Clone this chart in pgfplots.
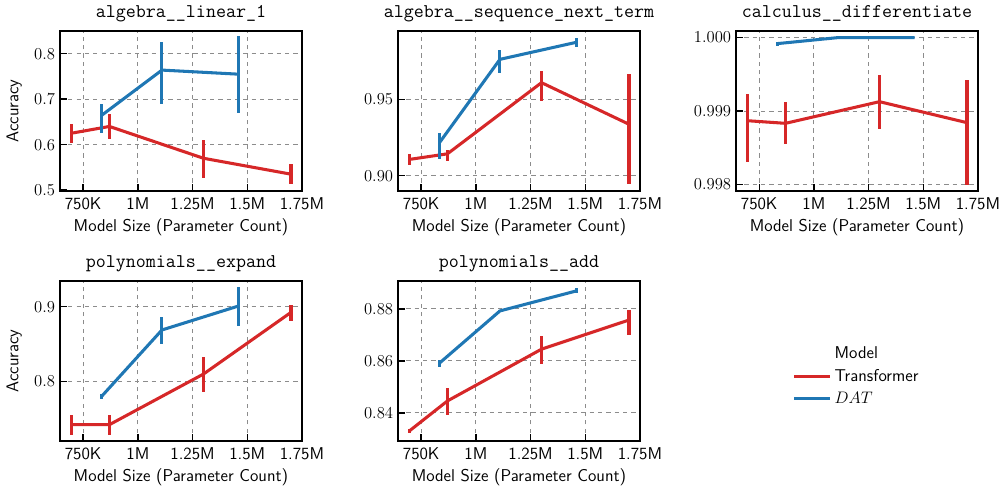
\documentclass[border=0pt]{standalone}
\usepackage{pgfplots}
\pgfplotsset{compat=1.18}
\usepackage{pgfplotstable}
\definecolor{tred}{HTML}{D62728}
\definecolor{tblue}{HTML}{1F77B4}

% ---------- data: x (millions), y, error plus, error minus ----------
\pgfplotstableread{
x y ep em
0.695 0.625 0.021 0.022
0.870 0.640 0.027 0.027
1.300 0.570 0.041 0.044
1.700 0.535 0.023 0.022
}\linTr
\pgfplotstableread{
x y ep em
0.833 0.664 0.025 0.039
1.110 0.764 0.061 0.074
1.460 0.755 0.085 0.085
}\linDat
\pgfplotstableread{
x y ep em
0.695 0.9107 0.0033 0.0037
0.870 0.9144 0.0028 0.0044
1.300 0.9611 0.0079 0.0121
1.700 0.9338 0.0328 0.0395
}\seqTr
\pgfplotstableread{
x y ep em
0.833 0.9216 0.0066 0.0106
1.110 0.9764 0.0064 0.0089
1.460 0.9876 0.0030 0.0033
}\seqDat
% calculus: y stored as (accuracy - 0.998) * 1000
\pgfplotstableread{
x y ep em
0.695 0.868 0.359 0.568
0.870 0.832 0.286 0.282
1.300 1.127 0.368 0.368
1.700 0.841 0.582 0.850
}\calTr
\pgfplotstableread{
x y ep em
0.833 1.918 0.027 0.027
1.110 2.000 0.000 0.000
1.460 2.000 0.000 0.000
}\calDat
\pgfplotstableread{
x y ep em
0.695 0.7420 0.0134 0.0139
0.870 0.7420 0.0134 0.0139
1.300 0.8098 0.0232 0.0241
1.700 0.8924 0.0098 0.0111
}\expTr
\pgfplotstableread{
x y ep em
0.833 0.7795 0.0035 0.0035
1.110 0.8688 0.0178 0.0188
1.460 0.9009 0.0259 0.0269
}\expDat
\pgfplotstableread{
x y ep em
0.695 0.8330 0.0008 0.0009
0.870 0.8446 0.0051 0.0055
1.300 0.8645 0.0050 0.0056
1.700 0.8757 0.0040 0.0056
}\addTr
\pgfplotstableread{
x y ep em
0.833 0.8591 0.0013 0.0015
1.110 0.8792 0.0003 0.0003
1.460 0.8869 0.0010 0.0010
}\addDat

\pgfplotsset{
  myax/.style={
    width=174.2pt, height=115.2pt, scale only axis,
    anchor=north west,
    xmin=0.644, xmax=1.75,
    xtick={0.75,1,1.25,1.5,1.75},
    xticklabels={750K,1M,1.25M,1.5M,1.75M},
    xticklabel style={font=\sffamily\fontsize{12.3}{14}\selectfont, anchor=base, yshift=-13pt},
    yticklabel style={font=\fontsize{12.2}{14}\selectfont},
    xlabel={Model Size (Parameter Count)},
    xlabel style={font=\sffamily\fontsize{12.3}{14}\selectfont,
      at={(axis description cs:0.5,0)}, anchor=base, yshift=-29.5pt},
    ylabel style={font=\sffamily\fontsize{12.3}{14}\selectfont,
      at={(axis description cs:0,0.5)}, anchor=center, yshift=33pt},
    every axis title shift=0pt,
    title style={font=\ttfamily\fontsize{14}{16}\selectfont,
      at={(axis description cs:0.5,1)}, anchor=base, yshift=9.7pt},
    grid=major,
    major grid style={dashed, black!45, line width=0.6pt},
    tick align=inside,
    xtick pos=bottom, ytick pos=left,
    major tick length=5pt,
    tick style={black, line width=1pt},
    axis line style={line width=1.2pt},
    every axis plot/.append style={line width=2.2pt},
  },
  ebar/.style={error bars/.cd, y dir=both, y explicit,
    error mark=none, error bar style={line width=2.2pt, solid}},
}

\begin{document}
\begin{tikzpicture}
\useasboundingbox (-43.2pt,22.32pt) rectangle (676.8pt,-327.6pt);

% 1
\begin{axis}[myax, at={(0pt,0pt)}, title={algebra\_\_linear\_1}, ylabel={Accuracy},
  ymin=0.498, ymax=0.850, ytick={0.5,0.6,0.7,0.8}, yticklabels={$0.5$,$0.6$,$0.7$,$0.8$}]
\addplot[tred, ebar] table[x=x,y=y,y error plus=ep,y error minus=em] {\linTr};
\addplot[tblue, ebar] table[x=x,y=y,y error plus=ep,y error minus=em] {\linDat};
\end{axis}

% 2
\begin{axis}[myax, at={(243.36pt,0pt)}, title={algebra\_\_sequence\_next\_term},
  ymin=0.890, ymax=0.995, ytick={0.90,0.95}, yticklabels={$0.90$,$0.95$}]
\addplot[tred, ebar] table[x=x,y=y,y error plus=ep,y error minus=em] {\seqTr};
\addplot[tblue, ebar] table[x=x,y=y,y error plus=ep,y error minus=em] {\seqDat};
\end{axis}

% 3
\begin{axis}[myax, at={(486.72pt,0pt)}, title={calculus\_\_differentiate},
  ymin=-0.09, ymax=2.09, ytick={0,1,2}, yticklabels={$0.998$,$0.999$,$1.000$}]
\addplot[tred, ebar] table[x=x,y=y,y error plus=ep,y error minus=em] {\calTr};
\addplot[tblue, ebar] table[x=x,y=y,y error plus=ep,y error minus=em] {\calDat};
\end{axis}

% 4
\begin{axis}[myax, at={(0pt,-180pt)}, title={polynomials\_\_expand}, ylabel={Accuracy},
  ymin=0.7201, ymax=0.9344, ytick={0.8,0.9}, yticklabels={$0.8$,$0.9$}]
\addplot[tred, ebar] table[x=x,y=y,y error plus=ep,y error minus=em] {\expTr};
\addplot[tblue, ebar] table[x=x,y=y,y error plus=ep,y error minus=em] {\expDat};
\end{axis}

% 5
\begin{axis}[myax, at={(243.36pt,-180pt)}, title={polynomials\_\_add},
  ymin=0.8292, ymax=0.8907, ytick={0.84,0.86,0.88}, yticklabels={$0.84$,$0.86$,$0.88$}]
\addplot[tred, ebar] table[x=x,y=y,y error plus=ep,y error minus=em] {\addTr};
\addplot[tblue, ebar] table[x=x,y=y,y error plus=ep,y error minus=em] {\addDat};
\end{axis}

% legend
\begin{axis}[width=174.2pt, height=115.2pt, scale only axis, anchor=north west,
  at={(486.72pt,-180pt)}, hide axis, xmin=0, xmax=1, ymin=0, ymax=1,
  legend style={draw=none, fill=none, at={(0.50,0.406)}, anchor=center,
    font=\sffamily\fontsize{12.3}{14}\selectfont, row sep=2pt},
  legend cell align=left,
  legend image code/.code={\draw[#1, line width=2.2pt] (0pt,0pt) -- (26pt,0pt);}]
\addlegendimage{empty legend}
\addlegendentry{Model}
\addlegendimage{tred}
\addlegendentry{Transformer}
\addlegendimage{tblue}
\addlegendentry{$DAT$}
\end{axis}
\end{tikzpicture}
\end{document}
